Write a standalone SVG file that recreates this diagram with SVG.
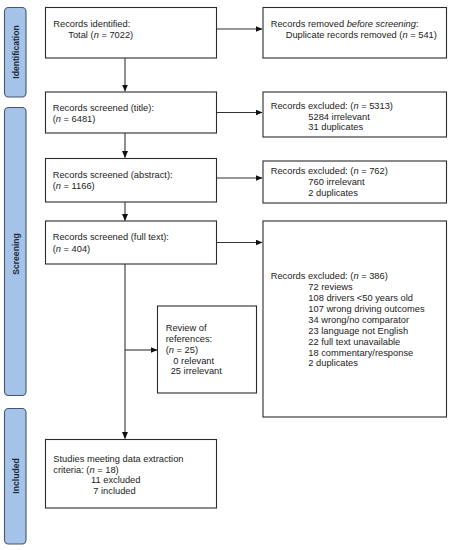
<svg xmlns="http://www.w3.org/2000/svg" width="451" height="550" viewBox="0 0 451 550">
<style>
.box{fill:#fff;stroke:#2b2b2b;stroke-width:1.1}
.bar{fill:#a5c3e9;stroke:#44576e;stroke-width:1.1}
.t{font-family:"Liberation Sans",Arial,sans-serif;font-size:9.3px;fill:#222}
.lb{font-family:"Liberation Sans",Arial,sans-serif;font-size:8.6px;font-weight:bold;fill:#1e2a3a;text-anchor:middle}
.c{stroke:#333;stroke-width:1.1;fill:none}
</style>
<defs>
<marker id="ah" markerWidth="7" markerHeight="6" refX="6.5" refY="3" orient="auto" markerUnits="userSpaceOnUse">
<path d="M0,0 L7,3 L0,6 Z" fill="#111"/>
</marker>
</defs>
<rect width="451" height="550" fill="#fff"/>
<g id="bars">
<rect class="bar" x="4.5" y="7.5" width="21.5" height="89.5" rx="4"/>
<text class="lb" transform="translate(18.5,52) rotate(-90)">Identification</text>
<rect class="bar" x="4.5" y="107.5" width="21.5" height="288" rx="4"/>
<text class="lb" transform="translate(18.5,254) rotate(-90)">Screening</text>
<rect class="bar" x="4.5" y="408.5" width="21.5" height="135.5" rx="4"/>
<text class="lb" transform="translate(18.5,476) rotate(-90)">Included</text>
</g>
<g id="connectors">
<line class="c" x1="215" y1="29" x2="262" y2="29" marker-end="url(#ah)"/>
<line class="c" x1="125" y1="58" x2="125" y2="91" marker-end="url(#ah)"/>
<line class="c" x1="215" y1="112.5" x2="262" y2="112.5" marker-end="url(#ah)"/>
<line class="c" x1="125" y1="133" x2="125" y2="157.5" marker-end="url(#ah)"/>
<line class="c" x1="215" y1="178" x2="262" y2="178" marker-end="url(#ah)"/>
<line class="c" x1="125" y1="202" x2="125" y2="220.5" marker-end="url(#ah)"/>
<line class="c" x1="215" y1="242.5" x2="262" y2="242.5" marker-end="url(#ah)"/>
<line class="c" x1="125" y1="264" x2="125" y2="438.5" marker-end="url(#ah)"/>
<line class="c" x1="125" y1="350" x2="157" y2="350" marker-end="url(#ah)"/>
</g>
<g id="n1">
<rect class="box" x="45.5" y="7.5" width="171" height="50.5"/>
<text class="t" x="53.3" y="27.2">Records identified:</text>
<text class="t" x="68.3" y="37.8">Total (<tspan font-style="italic">n</tspan> = 7022)</text>
</g>
<g id="n1r">
<rect class="box" x="263" y="7.5" width="183.5" height="50.5"/>
<text class="t" x="270.7" y="27.2">Records removed <tspan font-style="italic">before screening</tspan>:</text>
<text class="t" x="285.7" y="38">Duplicate records removed (<tspan font-style="italic">n</tspan> = 541)</text>
</g>
<g id="n2">
<rect class="box" x="45.5" y="92" width="171" height="41"/>
<text class="t" x="52.7" y="111.2">Records screened (title):</text>
<text class="t" x="52.7" y="122.4">(<tspan font-style="italic">n</tspan> = 6481)</text>
</g>
<g id="n2r">
<rect class="box" x="263" y="92" width="183.5" height="45"/>
<text class="t" x="270.7" y="108.6">Records excluded: (<tspan font-style="italic">n</tspan> = 5313)</text>
<text class="t" x="308.3" y="119.8">5284 irrelevant</text>
<text class="t" x="308.3" y="130">31 duplicates</text>
</g>
<g id="n3">
<rect class="box" x="45.5" y="158.5" width="171" height="43.5"/>
<text class="t" x="52.7" y="178.3">Records screened (abstract):</text>
<text class="t" x="52.7" y="188.6">(<tspan font-style="italic">n</tspan> = 1166)</text>
</g>
<g id="n3r">
<rect class="box" x="263" y="161" width="183.5" height="42"/>
<text class="t" x="270.7" y="174">Records excluded: (<tspan font-style="italic">n</tspan> = 762)</text>
<text class="t" x="308.3" y="185">760 irrelevant</text>
<text class="t" x="308.3" y="196">2 duplicates</text>
</g>
<g id="n4">
<rect class="box" x="45.5" y="221" width="171" height="43"/>
<text class="t" x="52.7" y="240">Records screened (full text):</text>
<text class="t" x="52.7" y="251.5">(<tspan font-style="italic">n</tspan> = 404)</text>
</g>
<g id="n4r">
<rect class="box" x="263" y="221" width="183.5" height="196"/>
<text class="t" x="270.7" y="279.3">Records excluded: (<tspan font-style="italic">n</tspan> = 386)</text>
<text class="t" x="308.3" y="290">72 reviews</text>
<text class="t" x="308.3" y="301">108 drivers &lt;50 years old</text>
<text class="t" x="308.3" y="312">107 wrong driving outcomes</text>
<text class="t" x="308.3" y="323">34 wrong/no comparator</text>
<text class="t" x="308.3" y="334">23 language not English</text>
<text class="t" x="308.3" y="344.6">22 full text unavailable</text>
<text class="t" x="308.3" y="355.6">18 commentary/response</text>
<text class="t" x="308.3" y="366">2 duplicates</text>
</g>
<g id="n5">
<rect class="box" x="157.5" y="306" width="99" height="87"/>
<text class="t" x="165.7" y="331">Review of</text>
<text class="t" x="165.7" y="342.2">references:</text>
<text class="t" x="165.7" y="353.3">(<tspan font-style="italic">n</tspan> = 25)</text>
<text class="t" x="173.3" y="363.5">0 relevant</text>
<text class="t" x="170.7" y="374.3">25 irrelevant</text>
</g>
<g id="n6">
<rect class="box" x="45.5" y="439.5" width="171" height="68.5"/>
<text class="t" x="53.3" y="461.6">Studies meeting data extraction</text>
<text class="t" x="53.3" y="472.6">criteria: (<tspan font-style="italic">n</tspan> = 18)</text>
<text class="t" x="91" y="483.3">11 excluded</text>
<text class="t" x="93.3" y="494">7 included</text>
</g>
</svg>
